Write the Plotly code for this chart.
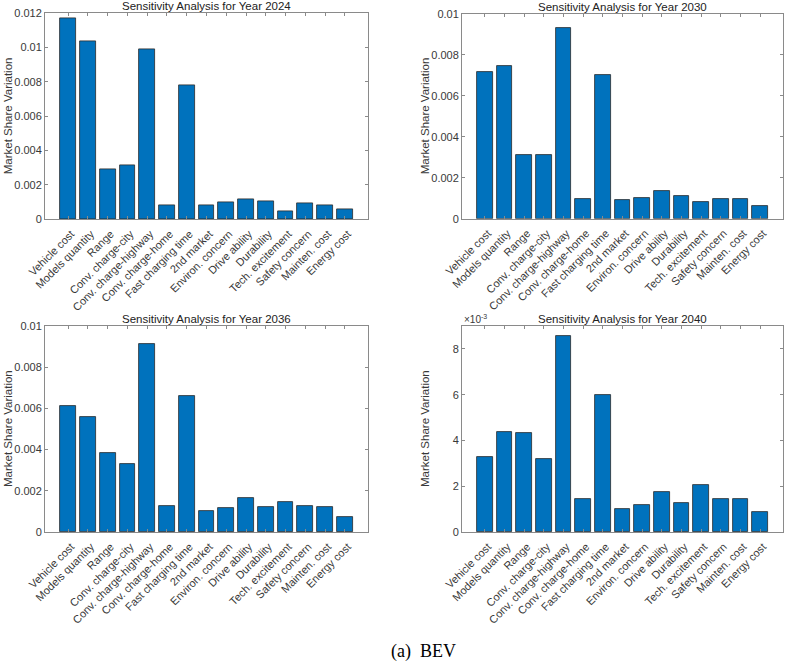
import plotly.graph_objects as go

categories = ["Vehicle cost", "Models quantity", "Range", "Conv. charge-city",
              "Conv. charge-highway", "Conv. charge-home", "Fast charging time",
              "2nd market", "Environ. concern", "Drive ability", "Durability",
              "Tech. excitement", "Safety concern", "Mainten. cost", "Energy cost"]

years = ["2024", "2030", "2036", "2040"]

values_2024 = [0.01171, 0.01035, 0.00293, 0.00317, 0.00992, 0.00080, 0.00779,
               0.00083, 0.00099, 0.00115, 0.00105, 0.00049, 0.00093, 0.00080, 0.00058]
values_2030 = [0.00719, 0.00744, 0.00310, 0.00313, 0.00931, 0.00098, 0.00700,
               0.00090, 0.00103, 0.00135, 0.00111, 0.00083, 0.00098, 0.00098, 0.00062]
values_2036 = [0.00612, 0.00557, 0.00383, 0.00330, 0.00914, 0.00128, 0.00660,
               0.00100, 0.00115, 0.00163, 0.00123, 0.00147, 0.00128, 0.00120, 0.00071]
values_2040 = [0.00329, 0.00435, 0.00431, 0.00321, 0.00855, 0.00143, 0.00599,
               0.00102, 0.00116, 0.00176, 0.00125, 0.00207, 0.00143, 0.00143, 0.00087]

y_ticks_2024 = [0, 0.002, 0.004, 0.006, 0.008, 0.01, 0.012]
y_ticklabels_2024 = ["0", "0.002", "0.004", "0.006", "0.008", "0.01", "0.012"]
y_ticks_2030 = [0, 0.002, 0.004, 0.006, 0.008, 0.01]
y_ticklabels_2030 = ["0", "0.002", "0.004", "0.006", "0.008", "0.01"]
y_ticks_2040 = [0, 0.002, 0.004, 0.006, 0.008]
y_ticklabels_2040 = ["0", "2", "4", "6", "8"]

caption = "(a)\u00a0\u00a0BEV"

W, H = 789, 662
BAR = "#0072BD"
LINE = "#8a8a8a"
TXT = "#383838"
FONT = "Liberation Sans, Arial, sans-serif"


def px(x):
    return x / W


def py(y):
    return 1 - y / H


panels = [
    dict(vals=values_2024, year=years[0], x0=45, x1=368, y0=13.3, y1=219.3,
         ymax=0.012, tv=y_ticks_2024, tt=y_ticklabels_2024, exp=False),
    dict(vals=values_2030, year=years[1], x0=462, x1=783, y0=14, y1=218.7,
         ymax=0.01, tv=y_ticks_2030, tt=y_ticklabels_2030, exp=False),
    dict(vals=values_2036, year=years[2], x0=45, x1=368, y0=326, y1=532,
         ymax=0.01, tv=y_ticks_2030, tt=y_ticklabels_2030, exp=False),
    dict(vals=values_2040, year=years[3], x0=462, x1=783, y0=326, y1=532,
         ymax=0.009, tv=y_ticks_2040, tt=y_ticklabels_2040, exp=True),
]

fig = go.Figure()
annotations = []
idx = list(range(len(categories)))

for i, p in enumerate(panels, start=1):
    xa = "x" if i == 1 else f"x{i}"
    ya = "y" if i == 1 else f"y{i}"
    fig.add_trace(go.Bar(x=idx, y=p["vals"], xaxis=xa, yaxis=ya, width=0.8,
                         marker=dict(color=BAR, line=dict(color="#2a2a2a", width=0.8)),
                         showlegend=False))
    xd = [px(p["x0"]), px(p["x1"])]
    yd = [py(p["y1"]), py(p["y0"])]
    xkey = "xaxis" if i == 1 else f"xaxis{i}"
    ykey = "yaxis" if i == 1 else f"yaxis{i}"
    fig.update_layout(**{
        xkey: dict(domain=xd, anchor=ya, range=[-1.17, 15.17], automargin=False,
                   tickmode="array", tickvals=idx, ticktext=categories,
                   tickangle=-45, ticks="inside", ticklen=3, tickcolor=LINE,
                   ticklabelstandoff=3, ticklabelshift=3,
                   showline=True, linecolor=LINE, linewidth=1, mirror="ticks",
                   showgrid=False, zeroline=False,
                   tickfont=dict(family=FONT, size=11, color=TXT)),
        ykey: dict(domain=yd, anchor=xa, range=[0, p["ymax"]], automargin=False,
                   tickmode="array", tickvals=p["tv"], ticktext=p["tt"],
                   ticks="inside", ticklen=3, tickcolor=LINE,
                   showline=True, linecolor=LINE, linewidth=1, mirror="ticks",
                   showgrid=False, zeroline=False,
                   tickfont=dict(family=FONT, size=11, color=TXT)),
    })
    cx = px((p["x0"] + p["x1"]) / 2)
    annotations.append(dict(text=f"Sensitivity Analysis for Year {p['year']}",
                            x=cx, y=py(p["y0"] - 7), xref="paper", yref="paper",
                            xanchor="center", yanchor="middle", showarrow=False,
                            font=dict(family=FONT, size=11.5, color="#222222")))
    annotations.append(dict(text="Market Share Variation", textangle=-90,
                            x=px(p["x0"] - 37), y=py((p["y0"] + p["y1"]) / 2),
                            xref="paper", yref="paper", xanchor="center", yanchor="middle",
                            showarrow=False, font=dict(family=FONT, size=11.5, color=TXT)))
    if p["exp"]:
        annotations.append(dict(text="×10<sup>-3</sup>", x=px(p["x0"]), y=py(p["y0"] - 7),
                                xref="paper", yref="paper", xanchor="left", yanchor="middle",
                                showarrow=False, font=dict(family=FONT, size=10, color=TXT)))

annotations.append(dict(text=caption, x=px(423), y=py(651), xref="paper", yref="paper",
                        xanchor="center", yanchor="middle", showarrow=False,
                        font=dict(family="Liberation Serif, Times New Roman, serif", size=18,
                                  color="#000000")))

fig.update_layout(width=W, height=H, margin=dict(l=0, r=0, t=0, b=0),
                  paper_bgcolor="white", plot_bgcolor="white", bargap=0,
                  annotations=annotations)

# remove the browser's default 8px body margin so the figure sits at the window's corner
fig.write_html("out.html", config={"displayModeBar": False},
               post_script="document.body.style.margin='0';document.body.style.overflow='hidden';")
